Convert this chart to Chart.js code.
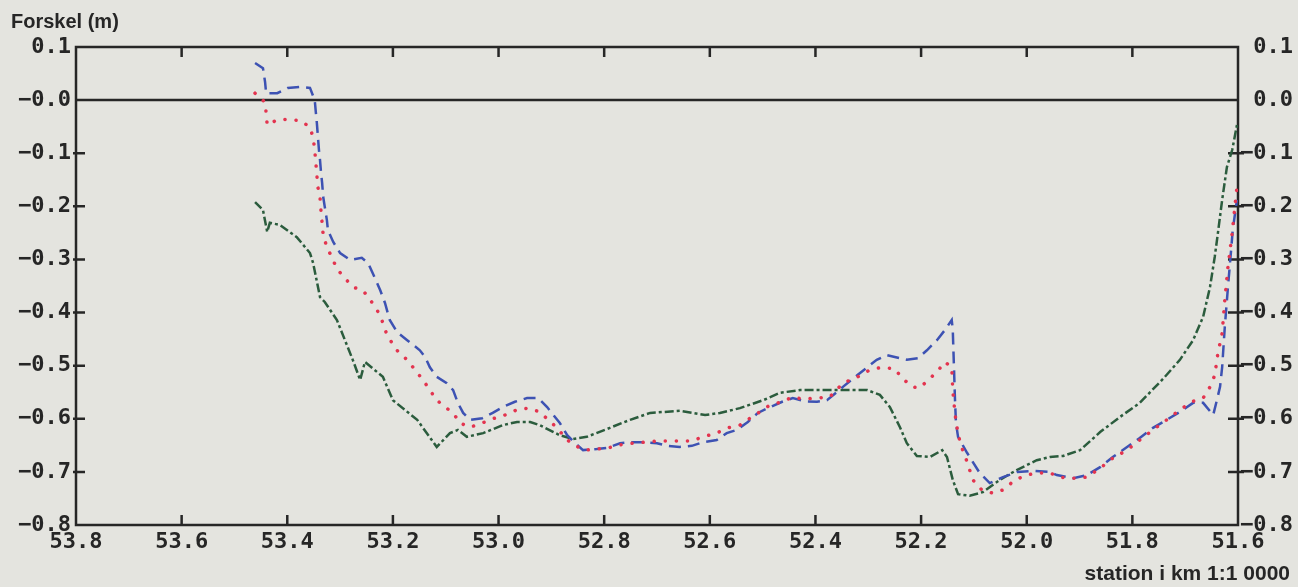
<!DOCTYPE html>
<html>
<head>
<meta charset="utf-8">
<script src="https://cdn.jsdelivr.net/npm/chart.js@4.4.1/dist/chart.umd.min.js"></script>
<style>
  html, body { margin: 0; padding: 0; background: #e4e4df; }
  #wrap { position: relative; width: 1298px; height: 587px; }
  .lbl { position: absolute; font-family: 'Liberation Sans', Arial, sans-serif; font-weight: bold; color: #262626; white-space: pre; line-height: 1; }
  #ytitle { left: 11px; top: 11px; font-size: 20px; }
  #xtitle { right: 8px; top: 562px; font-size: 21px; }
</style>
</head>
<body>
<div id="wrap">
  <canvas id="chart"></canvas>
  <div class="lbl" id="ytitle">Forskel (m)</div>
  <div class="lbl" id="xtitle">station i km 1:1 0000</div>
</div>
<script>
// station (km) ticks and difference (m) ticks
const xTicks = [53.8, 53.6, 53.4, 53.2, 53.0, 52.8, 52.6, 52.4, 52.2, 52.0, 51.8, 51.6];
const yTicks = [0.1, 0.0, -0.1, -0.2, -0.3, -0.4, -0.5, -0.6, -0.7, -0.8];
const yLabelsLeft  = ['0.1', '\u22120.0', '\u22120.1', '\u22120.2', '\u22120.3', '\u22120.4', '\u22120.5', '\u22120.6', '\u22120.7', '\u22120.8'];
const yLabelsRight = ['0.1', '0.0', '\u22120.1', '\u22120.2', '\u22120.3', '\u22120.4', '\u22120.5', '\u22120.6', '\u22120.7', '\u22120.8'];

// blue dashed series
const blueX = [53.461, 53.446, 53.442, 53.440, 53.419, 53.399, 53.376, 53.357, 53.348, 53.346, 53.344, 53.342, 53.340, 53.338, 53.336, 53.334, 53.332, 53.329, 53.325, 53.323,
  53.313, 53.300, 53.281, 53.259, 53.247, 53.234, 53.224, 53.215, 53.206, 53.192, 53.173, 53.149, 53.139, 53.130, 53.117, 53.098, 53.086, 53.077, 53.067, 53.054,
  53.031, 53.011, 52.992, 52.969, 52.946, 52.925, 52.908, 52.884, 52.870, 52.855, 52.840, 52.814, 52.795, 52.770, 52.746, 52.727, 52.700, 52.681, 52.657, 52.634,
  52.613, 52.587, 52.568, 52.549, 52.528, 52.509, 52.486, 52.463, 52.443, 52.420, 52.397, 52.378, 52.348, 52.321, 52.284, 52.265, 52.227, 52.206, 52.189, 52.170,
  52.155, 52.142, 52.140, 52.138, 52.136, 52.134, 52.130, 52.113, 52.089, 52.070, 52.045, 52.018, 51.988, 51.956, 51.943, 51.912, 51.886, 51.861, 51.837, 51.810,
  51.786, 51.761, 51.735, 51.710, 51.685, 51.666, 51.647, 51.640, 51.634, 51.630, 51.625, 51.619, 51.613, 51.610, 51.602];
const blueY = [0.070, 0.060, 0.034, 0.013, 0.013, 0.023, 0.025, 0.023, 0.000, -0.022, -0.043, -0.069, -0.094, -0.113, -0.137, -0.156, -0.182, -0.201, -0.226, -0.245,
  -0.267, -0.288, -0.301, -0.297, -0.307, -0.335, -0.358, -0.382, -0.414, -0.437, -0.452, -0.471, -0.484, -0.503, -0.521, -0.533, -0.546, -0.570, -0.589, -0.602,
  -0.599, -0.589, -0.578, -0.568, -0.561, -0.561, -0.578, -0.608, -0.631, -0.646, -0.659, -0.657, -0.655, -0.646, -0.644, -0.644, -0.646, -0.651, -0.653, -0.651,
  -0.644, -0.640, -0.627, -0.621, -0.606, -0.589, -0.578, -0.568, -0.561, -0.567, -0.568, -0.565, -0.540, -0.518, -0.489, -0.480, -0.489, -0.486, -0.471, -0.452,
  -0.433, -0.414, -0.433, -0.495, -0.559, -0.608, -0.634, -0.664, -0.702, -0.721, -0.710, -0.700, -0.698, -0.700, -0.706, -0.712, -0.706, -0.691, -0.672, -0.653,
  -0.636, -0.617, -0.602, -0.587, -0.570, -0.570, -0.593, -0.565, -0.540, -0.503, -0.427, -0.352, -0.282, -0.245, -0.188];

// red dotted series
const redX = [53.461, 53.442, 53.440, 53.438, 53.419, 53.397, 53.374, 53.357, 53.351, 53.348, 53.346, 53.344, 53.342, 53.338, 53.336, 53.334, 53.332, 53.325, 53.315, 53.306,
  53.291, 53.276, 53.257, 53.243, 53.230, 53.221, 53.213, 53.202, 53.190, 53.173, 53.158, 53.143, 53.130, 53.117, 53.101, 53.086, 53.073, 53.054, 53.031, 53.011,
  52.988, 52.965, 52.944, 52.922, 52.906, 52.889, 52.874, 52.859, 52.836, 52.814, 52.793, 52.770, 52.746, 52.700, 52.681, 52.657, 52.634, 52.613, 52.587, 52.566,
  52.543, 52.524, 52.505, 52.486, 52.463, 52.443, 52.424, 52.397, 52.373, 52.348, 52.320, 52.297, 52.274, 52.250, 52.236, 52.217, 52.202, 52.187, 52.170, 52.155,
  52.142, 52.140, 52.136, 52.132, 52.126, 52.113, 52.102, 52.085, 52.064, 52.045, 52.022, 52.000, 51.981, 51.956, 51.937, 51.912, 51.886, 51.861, 51.837, 51.810,
  51.786, 51.761, 51.735, 51.710, 51.685, 51.666, 51.653, 51.644, 51.638, 51.630, 51.625, 51.619, 51.611, 51.606, 51.602];
const redY = [0.013, -0.004, -0.024, -0.047, -0.037, -0.036, -0.039, -0.051, -0.071, -0.094, -0.117, -0.141, -0.164, -0.184, -0.211, -0.231, -0.254, -0.277, -0.297, -0.318,
  -0.335, -0.352, -0.358, -0.376, -0.395, -0.414, -0.437, -0.457, -0.474, -0.489, -0.508, -0.527, -0.546, -0.565, -0.578, -0.589, -0.608, -0.616, -0.608, -0.600,
  -0.593, -0.583, -0.580, -0.587, -0.602, -0.617, -0.636, -0.649, -0.659, -0.657, -0.655, -0.649, -0.646, -0.642, -0.642, -0.642, -0.642, -0.634, -0.627, -0.617,
  -0.612, -0.599, -0.587, -0.574, -0.568, -0.559, -0.563, -0.561, -0.559, -0.533, -0.521, -0.508, -0.503, -0.506, -0.523, -0.540, -0.542, -0.527, -0.512, -0.493,
  -0.503, -0.546, -0.589, -0.616, -0.646, -0.681, -0.715, -0.734, -0.740, -0.734, -0.715, -0.706, -0.702, -0.702, -0.710, -0.712, -0.710, -0.693, -0.674, -0.659,
  -0.640, -0.621, -0.602, -0.583, -0.567, -0.561, -0.540, -0.518, -0.476, -0.439, -0.376, -0.314, -0.250, -0.201, -0.164];

// green dash-dot series
const greenX = [53.461, 53.446, 53.438, 53.433, 53.414, 53.382, 53.357, 53.351, 53.338, 53.329, 53.306, 53.276, 53.262, 53.253, 53.219, 53.200, 53.154, 53.117, 53.092, 53.077,
  53.060, 53.029, 52.992, 52.965, 52.940, 52.922, 52.884, 52.859, 52.833, 52.789, 52.751, 52.713, 52.657, 52.632, 52.609, 52.581, 52.543, 52.499, 52.467, 52.429,
  52.367, 52.302, 52.278, 52.259, 52.240, 52.227, 52.208, 52.183, 52.160, 52.151, 52.140, 52.130, 52.108, 52.083, 52.051, 52.018, 51.981, 51.956, 51.931, 51.899,
  51.861, 51.824, 51.786, 51.742, 51.710, 51.685, 51.666, 51.653, 51.644, 51.638, 51.630, 51.621, 51.611, 51.602];
const greenY = [-0.192, -0.207, -0.248, -0.231, -0.235, -0.258, -0.288, -0.307, -0.371, -0.380, -0.414, -0.489, -0.527, -0.493, -0.521, -0.565, -0.602, -0.653, -0.627, -0.621,
  -0.634, -0.627, -0.612, -0.606, -0.606, -0.612, -0.631, -0.638, -0.634, -0.617, -0.602, -0.589, -0.585, -0.589, -0.593, -0.589, -0.580, -0.565, -0.551, -0.546,
  -0.546, -0.546, -0.555, -0.578, -0.616, -0.646, -0.670, -0.672, -0.659, -0.672, -0.715, -0.742, -0.745, -0.738, -0.715, -0.696, -0.678, -0.672, -0.670, -0.659,
  -0.625, -0.597, -0.570, -0.525, -0.489, -0.452, -0.408, -0.352, -0.295, -0.250, -0.188, -0.126, -0.094, -0.047];

(function () {
  'use strict';

  const INK = '#262626';
  const TICK_FONT = { family: "'DejaVu Sans Mono', monospace", weight: 'bold', size: 22 };

  function pts(xs, ys) {
    return xs.map(function (x, i) { return { x: x, y: ys[i] }; });
  }

  // Box, zero line and inward tick marks (plotter style)
  const framePlugin = {
    id: 'frame',
    beforeDatasetsDraw: function (chart) {
      const ctx = chart.ctx;
      const a = chart.chartArea;
      const xs = chart.scales.x;
      const ys = chart.scales.y;
      ctx.save();
      ctx.strokeStyle = INK;
      ctx.lineWidth = 2.5;
      ctx.lineCap = 'butt';

      ctx.strokeRect(a.left, a.top, a.right - a.left, a.bottom - a.top);

      // zero line
      const y0 = ys.getPixelForValue(0);
      ctx.beginPath();
      ctx.moveTo(a.left, y0);
      ctx.lineTo(a.right, y0);
      ctx.stroke();

      ctx.beginPath();
      xTicks.forEach(function (v, i) {
        if (i === 0 || i === xTicks.length - 1) return;
        const px = xs.getPixelForValue(v);
        ctx.moveTo(px, a.top);
        ctx.lineTo(px, a.top + 10);
        ctx.moveTo(px, a.bottom);
        ctx.lineTo(px, a.bottom - 10);
      });
      yTicks.forEach(function (v, i) {
        if (i === 0 || i === yTicks.length - 1 || v === 0) return;
        const py = ys.getPixelForValue(v);
        ctx.moveTo(a.left - 3, py);
        ctx.lineTo(a.left + 9, py);
        ctx.moveTo(a.right - 10, py);
        ctx.lineTo(a.right + 6, py);
      });
      ctx.stroke();
      ctx.restore();
    }
  };

  const yAxisBase = {
    type: 'linear',
    min: -0.8,
    max: 0.1,
    grid: { display: false, drawTicks: false },
    border: { display: false },
    afterBuildTicks: function (scale) {
      scale.ticks = yTicks.map(function (v) { return { value: v }; });
    }
  };

  const config = {
    type: 'line',
    data: {
      datasets: [
        {
          label: 'red',
          data: pts(redX, redY),
          borderColor: '#e3344f',
          borderWidth: 3.5,
          borderDash: [0.1, 11],
          borderCapStyle: 'round'
        },
        {
          label: 'blue',
          data: pts(blueX, blueY),
          borderColor: '#3d52b3',
          borderWidth: 2.5,
          borderDash: [12, 7]
        },
        {
          label: 'green',
          data: pts(greenX, greenY),
          borderColor: '#2b5c3d',
          borderWidth: 2.5,
          borderDash: [9, 3, 3, 3]
        }
      ]
    },
    options: {
      responsive: true,
      maintainAspectRatio: false,
      animation: false,
      devicePixelRatio: 1,
      layout: { padding: { top: 47, right: 5, left: 0, bottom: 0 } },
      elements: { point: { radius: 0 }, line: { tension: 0, fill: false } },
      plugins: { legend: { display: false }, tooltip: { enabled: false } },
      scales: {
        x: {
          type: 'linear',
          reverse: true,
          min: 51.6,
          max: 53.8,
          grid: { display: false, drawTicks: false },
          border: { display: false },
          afterBuildTicks: function (scale) {
            scale.ticks = xTicks.map(function (v) { return { value: v }; });
          },
          afterFit: function (scale) { scale.height = 62; },
          ticks: {
            color: INK,
            font: TICK_FONT,
            padding: 4,
            maxRotation: 0,
            autoSkip: false,
            callback: function (v, i) { return xTicks[i].toFixed(1); }
          }
        },
        y: Object.assign({}, yAxisBase, {
          position: 'left',
          afterFit: function (scale) { scale.width = 76; },
          ticks: {
            color: INK,
            font: TICK_FONT,
            padding: 5,
            autoSkip: false,
            callback: function (v, i) { return yLabelsLeft[i]; }
          }
        }),
        y2: Object.assign({}, yAxisBase, {
          position: 'right',
          afterFit: function (scale) { scale.width = 55; },
          ticks: {
            color: INK,
            font: TICK_FONT,
            padding: 0,
            crossAlign: 'far',
            autoSkip: false,
            callback: function (v, i) { return yLabelsRight[i]; }
          }
        })
      }
    },
    plugins: [framePlugin]
  };

  new Chart(document.getElementById('chart'), config);
}());
</script>
</body>
</html>
